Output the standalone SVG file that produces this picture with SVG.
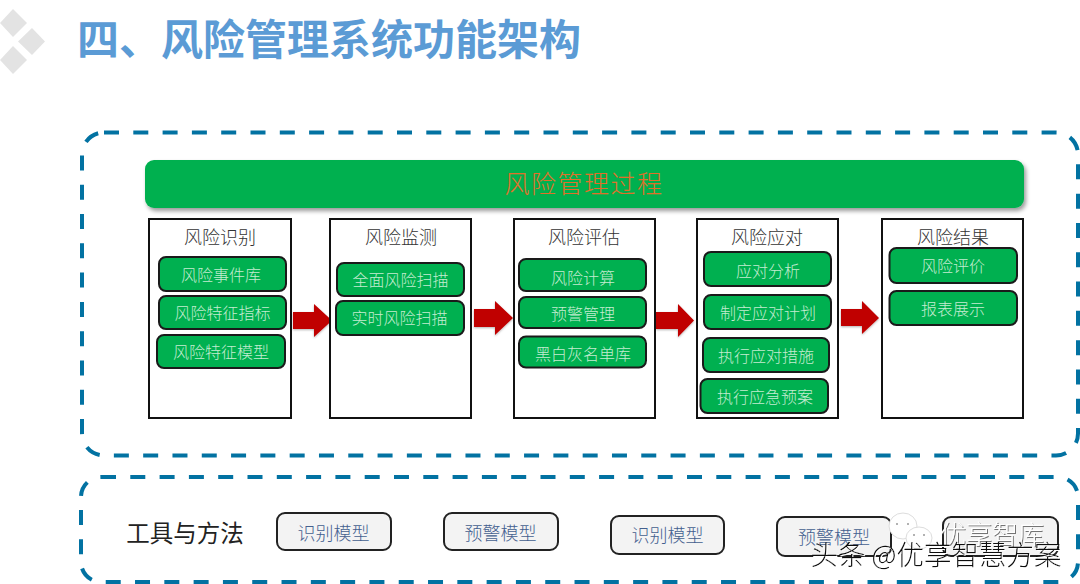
<svg xmlns="http://www.w3.org/2000/svg" width="1080" height="584" viewBox="0 0 1080 584">
<style>
text{font-family:"Noto Sans CJK SC","Liberation Sans",sans-serif;text-anchor:middle}
.frame{fill:none;stroke:#0272A2;stroke-width:4;stroke-dasharray:15 14.300}
.col{fill:#fff;stroke:#111;stroke-width:2}
.colt{font-size:18px;fill:#333;font-weight:300}
.pill{fill:#00B050;stroke:#1a1a1a;stroke-width:2}
.pillt{font-size:16px;fill:#c4ecd0;font-weight:300}
.tool{fill:#F3F3F3;stroke:#222;stroke-width:2}
.toolt{font-size:18px;fill:#44608f;font-weight:300}
.arrow{fill:#C00000}
.bubble{fill:#fff;stroke:#ddd;stroke-width:1}
.eye{fill:#999}
</style>
<defs>
<filter id="sh" x="-5%" y="-20%" width="110%" height="150%"><feDropShadow dx="2" dy="3" stdDeviation="2" flood-color="#000" flood-opacity=".4"/></filter>
<filter id="sa" x="-20%" y="-20%" width="140%" height="140%"><feDropShadow dx="0" dy="1" stdDeviation="1" flood-color="#000" flood-opacity=".3"/></filter>
<filter id="glow" x="-10%" y="-30%" width="120%" height="160%"><feDropShadow dx="1" dy="1" stdDeviation=".4" flood-color="#fff" flood-opacity="1"/></filter>
<filter id="gray" x="-10%" y="-30%" width="120%" height="160%"><feDropShadow dx="1" dy="1" stdDeviation=".4" flood-color="#555" flood-opacity=".8"/></filter>
</defs>
<rect width="1080" height="584" fill="#fff"/>
<g id="logo" fill="#E3E3E3">
<polygon points="13,9 27,23 13,37 0,23"/>
<polygon points="32,28 45,41.500 32,55 18,41.500"/>
<polygon points="13,46 27,60 13,74 0,60"/>
</g>
<text id="title" x="329" y="55" font-size="42" font-weight="700" fill="#5B9BD5">四、风险管理系统功能架构</text>
<rect id="frame-process" class="frame" x="82" y="132.500" width="996" height="323" rx="22"/>
<rect id="frame-tools" class="frame" x="81" y="477" width="997" height="105" rx="20"/>
<g id="process-bar">
<rect x="145" y="160" width="879" height="48" rx="9" fill="#00B050" filter="url(#sh)"/>
<text x="584" y="193" font-size="25" fill="#E0702A" font-weight="300" letter-spacing="1.500">风险管理过程</text>
</g>
<g id="connectors" class="arrow" filter="url(#sa)">
<polygon points="293,312 314,312 314,304 332,320.500 314,337 314,329 293,329"/>
<polygon points="474,309 495,309 495,301 513,318 495,335 495,327 474,327"/>
<polygon points="656,312 678,312 678,304 694,320.500 678,337 678,329 656,329"/>
<polygon points="841,309 862,309 862,301 879,318 862,334 862,326 841,326"/>
</g>
<g id="col-identify">
<rect class="col" x="149" y="219" width="142" height="199"/>
<text class="colt" x="220" y="244">风险识别</text>
<rect class="pill" x="159" y="257" width="127" height="34" rx="7"/><text class="pillt" x="221" y="281">风险事件库</text>
<rect class="pill" x="159" y="296" width="127" height="33" rx="7"/><text class="pillt" x="222.500" y="319">风险特征指标</text>
<rect class="pill" x="157" y="335" width="128" height="33" rx="7"/><text class="pillt" x="221" y="358">风险特征模型</text>
</g>
<g id="col-monitor">
<rect class="col" x="330" y="219" width="141" height="199"/>
<text class="colt" x="401" y="244">风险监测</text>
<rect class="pill" x="337" y="263" width="127" height="33" rx="7"/><text class="pillt" x="400.500" y="286">全面风险扫描</text>
<rect class="pill" x="336" y="301" width="128" height="34" rx="7"/><text class="pillt" x="399.500" y="324">实时风险扫描</text>
</g>
<g id="col-assess">
<rect class="col" x="514" y="219" width="141" height="199"/>
<text class="colt" x="584" y="244">风险评估</text>
<rect class="pill" x="519" y="259" width="127" height="32" rx="7"/><text class="pillt" x="583" y="284">风险计算</text>
<rect class="pill" x="519" y="297" width="127" height="31" rx="7"/><text class="pillt" x="583" y="320">预警管理</text>
<rect class="pill" x="519" y="336.500" width="127" height="31" rx="7"/><text class="pillt" x="583" y="360">黑白灰名单库</text>
</g>
<g id="col-respond">
<rect class="col" x="697" y="219" width="141" height="199"/>
<text class="colt" x="767" y="244">风险应对</text>
<rect class="pill" x="704" y="252" width="127" height="34" rx="7"/><text class="pillt" x="768" y="277">应对分析</text>
<rect class="pill" x="704" y="295" width="127" height="34" rx="7"/><text class="pillt" x="768" y="319">制定应对计划</text>
<rect class="pill" x="703" y="338" width="126" height="34" rx="7"/><text class="pillt" x="766" y="362">执行应对措施</text>
<rect class="pill" x="700.500" y="379" width="127.500" height="34" rx="7"/><text class="pillt" x="765" y="403">执行应急预案</text>
</g>
<g id="col-result">
<rect class="col" x="882" y="219" width="141" height="199"/>
<text class="colt" x="953" y="244">风险结果</text>
<rect class="pill" x="889.500" y="248" width="127.500" height="35" rx="7"/><text class="pillt" x="953" y="272">风险评价</text>
<rect class="pill" x="889.500" y="291" width="127.500" height="34" rx="7"/><text class="pillt" x="953" y="315">报表展示</text>
</g>
<text id="tools-label" x="185" y="542" font-size="23.500" fill="#222" font-weight="400">工具与方法</text>
<g id="tool-1"><rect class="tool" x="277" y="513" width="114" height="37" rx="8"/><text class="toolt" x="333.500" y="540">识别模型</text></g>
<g id="tool-2"><rect class="tool" x="444" y="513" width="114" height="37" rx="8"/><text class="toolt" x="500.500" y="540">预警模型</text></g>
<g id="tool-3"><rect class="tool" x="611" y="516" width="113" height="38" rx="8"/><text class="toolt" x="667.500" y="542">识别模型</text></g>
<g id="tool-4"><rect class="tool" x="777" y="517" width="114" height="39" rx="8"/><text class="toolt" x="834" y="544">预警模型</text></g>
<g id="tool-5"><rect class="tool" x="943" y="517" width="115" height="39" rx="8"/></g>
<g id="watermark">
<ellipse class="bubble" cx="903" cy="526" rx="14" ry="13"/>
<circle class="eye" cx="897" cy="524" r="1"/><circle class="eye" cx="908" cy="524" r="1"/>
<ellipse class="bubble" cx="919" cy="538" rx="13" ry="11"/>
<circle class="eye" cx="914" cy="535" r="1"/><circle class="eye" cx="924" cy="535" r="1"/>
<text x="992" y="544" font-size="26" fill="#fff" filter="url(#gray)" font-weight="300">优享智库</text>
<text x="936" y="565" font-size="27.500" fill="#111" filter="url(#glow)" font-weight="300">头条 @优享智慧方案</text>
</g>
</svg>
